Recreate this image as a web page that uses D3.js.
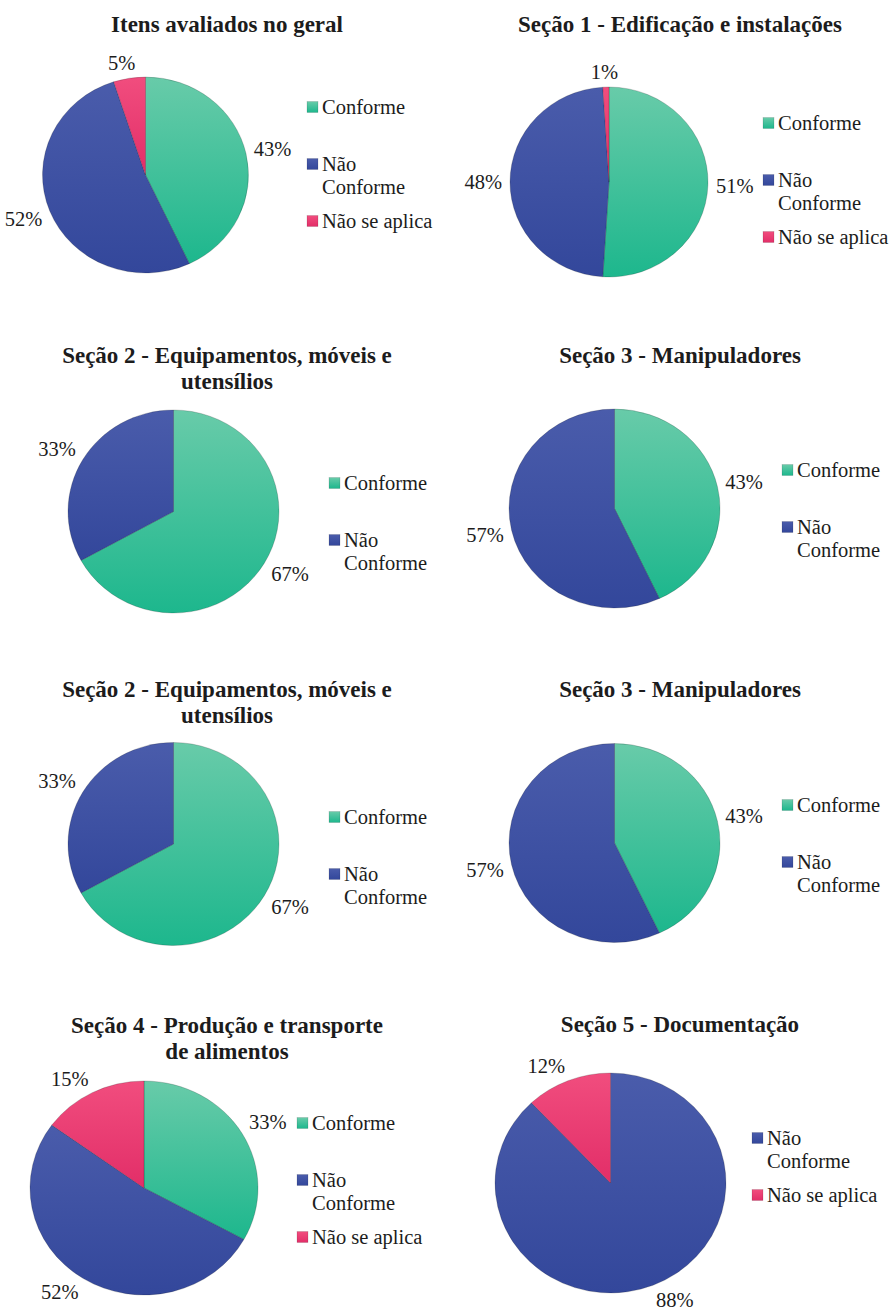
<!DOCTYPE html>
<html lang="pt">
<head>
<meta charset="UTF-8">
<title>Itens avaliados - pizza</title>
<script src="https://cdn.jsdelivr.net/npm/d3@7/dist/d3.min.js"></script>
<style>
    body{ margin:0; background:#fff; }
    path.slice{ stroke:rgba(0,0,0,0.22); stroke-width:0.8px; }
</style>
</head>
<body>
<svg id="main" width="896" height="1310"></svg>
<script>
    // categories and their legend text (legend wraps "Não Conforme")
    const categories = ['Conforme', 'Não Conforme', 'Não se aplica'];
    const legendLines = [['Conforme'], ['Não', 'Conforme'], ['Não se aplica']];
    const colorTop = ['#68cba9', '#4a5cab', '#f14d7e'];
    const colorBottom = ['#1db78d', '#33479b', '#e22e68'];

    // percentages (Conforme, Não Conforme, Não se aplica)
    const geral = [43, 52, 5];
    const secao1 = [51, 48, 1];
    const secao2 = [67, 33, 0];
    const secao3 = [43, 57, 0];
    const secao4 = [33, 52, 15];
    const secao5 = [0, 88, 12];

    const titles = [
        ['Itens avaliados no geral'],
        ['Seção 1 - Edificação e instalações'],
        ['Seção 2 - Equipamentos, móveis e', 'utensílios'],
        ['Seção 3 - Manipuladores'],
        ['Seção 2 - Equipamentos, móveis e', 'utensílios'],
        ['Seção 3 - Manipuladores'],
        ['Seção 4 - Produção e transporte', 'de alimentos'],
        ['Seção 5 - Documentação']
    ];
    const series = [geral, secao1, secao2, secao3, secao2, secao3, secao4, secao5];

    // panel layout: pie centre / radii, title anchor, legend anchor
    const panels = [
        {cx:145.5, cy:175,   rx:103,   ry:98,    tx:227, ty:32,   lx:307, ly:107},
        {cx:609,   cy:182,   rx:99,    ry:95,    tx:680, ty:32,   lx:763, ly:123},
        {cx:173.5, cy:511.5, rx:105.5, ry:101.5, tx:227, ty:363,  lx:329, ly:483},
        {cx:614.5, cy:508.5, rx:105.5, ry:99.5,  tx:680, ty:363,  lx:782, ly:470},
        {cx:173.5, cy:844,   rx:105.5, ry:101.5, tx:227, ty:697,  lx:329, ly:817},
        {cx:614.5, cy:843,   rx:105.5, ry:99.5,  tx:680, ty:697,  lx:782, ly:805},
        {cx:144,   cy:1188,  rx:114,   ry:107,   tx:227, ty:1033, lx:297, ly:1123},
        {cx:610.5, cy:1183,  rx:115.5, ry:110,   tx:680, ty:1032, lx:752, ly:1138}
    ];

    const FONT = '"Liberation Serif", Tinos, "Times New Roman", serif';

    let svg = d3.select('svg#main');

    // gradients, one per category
    let defs = svg.append('defs');
    categories.forEach(function(c, i){
        let g = defs.append('linearGradient').attr('id', 'grad' + i)
            .attr('x1', 0).attr('y1', 0).attr('x2', 0).attr('y2', 1);
        g.append('stop').attr('offset', '0%').attr('stop-color', colorTop[i]);
        g.append('stop').attr('offset', '100%').attr('stop-color', colorBottom[i]);
    });

    let pie = d3.pie().sort(null).value(function(d){ return d.value; });
    let clamp = function(v){ return Math.max(-1, Math.min(1, v)); };

    series.forEach(function(vals, k){
        let p = panels[k];
        let data = vals.map(function(v, i){ return {cat:i, value:v}; })
            .filter(function(d){ return d.value > 0; });
        let panel = svg.append('g');

        // title
        panel.selectAll('text.title').data(titles[k]).enter().append('text')
            .attr('class', 'title')
            .attr('text-anchor', 'middle')
            .style('font-family', FONT)
            .style('font-weight', 'bold')
            .style('font-size', '23px')
            .style('fill', '#1c1c1c')
            .attr('x', p.tx)
            .attr('y', function(d, i){ return p.ty + i * 26; })
            .text(function(d){ return d; });

        // slices: drawn at radius ry and stretched horizontally
        let arc = d3.arc().innerRadius(0).outerRadius(p.ry);
        let arcs = pie(data);
        panel.append('g')
            .attr('transform', 'translate(' + p.cx + ',' + p.cy + ') scale(' + (p.rx / p.ry) + ',1)')
            .selectAll('path').data(arcs).enter().append('path')
            .attr('class', 'slice')
            .attr('d', arc)
            .attr('fill', function(d){ return 'url(#grad' + d.data.cat + ')'; });

        // percentage labels outside the pie
        let gap = 8, H = 7;
        panel.selectAll('text.pct').data(arcs).enter().append('text')
            .attr('class', 'pct')
            .attr('text-anchor', 'middle')
            .attr('dominant-baseline', 'central')
            .style('font-family', FONT)
            .style('font-size', '20.5px')
            .style('fill', '#1c1c1c')
            .text(function(d){ return d.data.value + '%'; })
            .each(function(d){
                let W = this.getComputedTextLength() / 2;
                let a = (d.startAngle + d.endAngle) / 2;
                let s = Math.sin(a), c = -Math.cos(a);
                d3.select(this)
                    .attr('x', p.cx + s * (p.rx + gap) + clamp(s * 3) * W)
                    .attr('y', p.cy + c * (p.ry + gap) + clamp(c * 2) * H);
            });

        // legend
        let leg = panel.append('g');
        let item = leg.selectAll('g').data(data).enter().append('g')
            .attr('transform', function(d, i){ return 'translate(' + p.lx + ',' + (p.ly + i * 57) + ')'; });
        item.append('rect')
            .attr('x', 0).attr('y', -5.5).attr('width', 11).attr('height', 11)
            .attr('fill', function(d){ return 'url(#grad' + d.cat + ')'; })
            .attr('stroke', 'rgba(0,0,0,0.2)').attr('stroke-width', 0.6);
        item.append('text')
            .attr('class', 'leg')
            .style('font-family', FONT)
            .style('font-size', '20.5px')
            .style('fill', '#1c1c1c')
            .attr('x', 15)
            .selectAll('tspan').data(function(d){ return legendLines[d.cat]; }).enter().append('tspan')
            .attr('x', 15)
            .attr('y', function(d, i){ return 7 + i * 23; })
            .text(function(d){ return d; });
    });
</script>
</body>
</html>
